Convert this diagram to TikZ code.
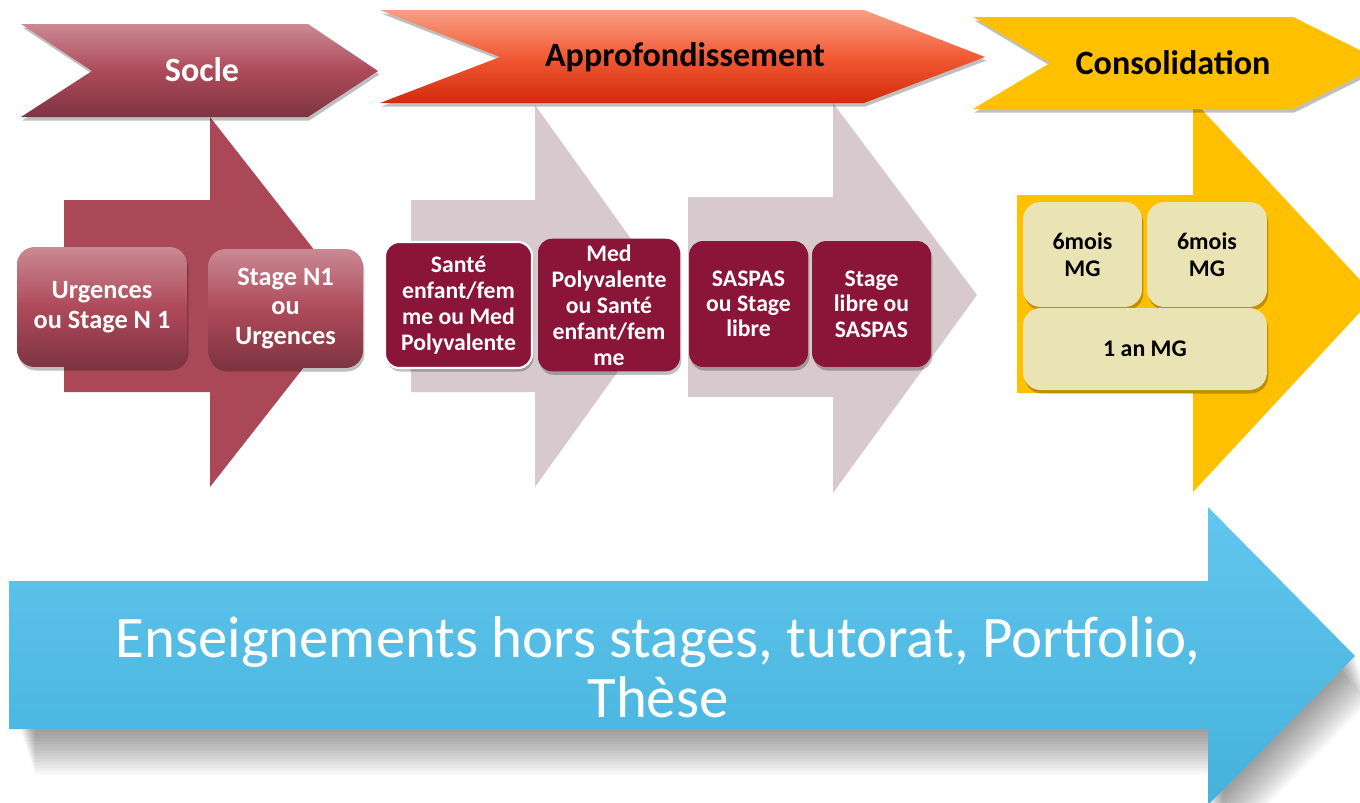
\documentclass[tikz,border=0pt]{standalone}
\usepackage{fontspec}
\setmainfont{Carlito}
\usetikzlibrary{shadows}
\definecolor{socletop}{HTML}{CA8994}
\definecolor{soclemid}{HTML}{AE4A5A}
\definecolor{soclebot}{HTML}{7E3442}
\definecolor{soclearrow}{HTML}{AA4857}
\definecolor{approtop}{HTML}{F8A085}
\definecolor{appromid}{HTML}{F25A35}
\definecolor{approbot}{HTML}{D22A0C}
\definecolor{paleround}{HTML}{D7C9CD}
\definecolor{crimson}{HTML}{8A1538}
\definecolor{gold}{HTML}{FFC000}
\definecolor{khaki}{HTML}{EAE3B4}
\definecolor{skytop}{HTML}{62C6ED}
\definecolor{skybot}{HTML}{44B2DC}

\begin{document}
\begin{tikzpicture}[x=0.02cm,y=-0.02cm,
    hdr/.style={font=\bfseries\fontsize{19.4}{22}\selectfont},
    soft/.style={drop shadow={shadow xshift=0.8pt,shadow yshift=-2pt,opacity=0.25,fill=black}},
    socbox/.style={rounded corners=10pt,align=center,text=white,
      font=\bfseries\fontsize{15}{17}\selectfont,
      top color=socletop,bottom color=soclebot,middle color=soclemid,soft},
    probox/.style={rounded corners=8pt,align=center,text=white,fill=crimson,
      font=\bfseries\fontsize{13.5}{14.8}\selectfont,soft},
    mgbox/.style={rounded corners=10pt,align=center,text=black,fill=khaki,
      font=\bfseries\fontsize{13.6}{15.5}\selectfont,soft}]
  \useasboundingbox (0,0) rectangle (1360,802);
  \clip (0,0) rectangle (1360,802);

  % big arrows behind the boxes
  \fill[soclearrow] (64,200) -- (210,200) -- (210,117) -- (355,302) -- (210,487) -- (210,392) -- (64,392) -- cycle;
  \fill[paleround] (411,200) -- (535,200) -- (535,105) -- (672,296) -- (535,487) -- (535,392) -- (411,392) -- cycle;
  \fill[paleround] (688,197) -- (833,197) -- (833,103) -- (977,295) -- (833,493) -- (833,397) -- (688,397) -- cycle;
  \fill[gold] (1017,195) -- (1193,195) -- (1193,100) -- (1375,296) -- (1193,492) -- (1193,393) -- (1017,393) -- cycle;

  % headers
  \path[top color=socletop,bottom color=soclebot,middle color=soclemid,soft]
    (21,24) -- (308,24) -- (378,71) -- (308,117) -- (21,117) -- (92,71) -- cycle;
  \path[top color=approtop,bottom color=approbot,middle color=appromid,soft]
    (380,10) -- (864,10) -- (985,57) -- (864,103) -- (380,103) -- (500,57) -- cycle;
  \path[fill=gold,soft]
    (973,17) -- (1293,17) -- (1386,63) -- (1293,109) -- (973,109) -- (1050,63) -- cycle;
  \node[hdr,text=white] (socle) at (202,70) {Socle};
  \node[hdr] (appro) at (685,57) {Approfondissement};
  \node[hdr] (conso) at (1173,63) {Consolidation};

  % socle
  \node[socbox,minimum width=3.4cm,minimum height=2.4cm] (urg) at (102,307) {Urgences\\ou Stage N 1};
  \node[socbox,minimum width=3.1cm,minimum height=2.38cm] (stn) at (285.5,308.5) {Stage N1\\ou\\Urgences};

  % approfondissement
  \node[probox,draw=white,line width=1.2pt,minimum width=2.94cm,minimum height=2.52cm] (sante) at (458.5,305) {Santé\\enfant/fem\\me ou Med\\Polyvalente};
  \node[probox,minimum width=2.84cm,minimum height=2.52cm] (medpoly) at (609,305) {Med\\Polyvalente\\ou Santé\\enfant/fem\\me};
  \node[probox,minimum width=2.38cm,minimum height=2.52cm,font=\bfseries\fontsize{13.5}{14.4}\selectfont] (saspas) at (748.5,304) {SASPAS\\ou Stage\\libre};
  \node[probox,minimum width=2.38cm,minimum height=2.52cm,font=\bfseries\fontsize{13.5}{14.4}\selectfont] (libre) at (871.5,304) {Stage\\libre ou\\SASPAS};

  % consolidation
  \node[mgbox,minimum width=2.38cm,minimum height=2.1cm] (mga) at (1082.5,254.5) {6mois\\MG};
  \node[mgbox,minimum width=2.4cm,minimum height=2.1cm] (mgb) at (1207,254.5) {6mois\\MG};
  \node[mgbox,minimum width=4.88cm,minimum height=1.64cm] (mgan) at (1145,349) {1 an MG};

  % bottom arrow with its shadow
  \foreach \s in {3,6,...,45}
    \fill[black,opacity=0.03] (20+\s/3,581+\s) -- (1208+\s/3,581+\s) -- (1208+\s/3,507+\s) -- (1355+\s/3,656+\s) -- (1208+\s/3,805+\s) -- (1208+\s/3,729+\s) -- (20+\s/3,729+\s) -- cycle;
  \path[top color=skytop,bottom color=skybot]
    (9,581) -- (1208,581) -- (1208,507) -- (1355,656) -- (1208,805) -- (1208,729) -- (9,729) -- cycle;
  \node[text=white,align=center,font=\fontsize{33.5}{34}\selectfont] (cours) at (658,667)
    {Enseignements hors stages, tutorat, Portfolio,\\Thèse};
\end{tikzpicture}
\end{document}
